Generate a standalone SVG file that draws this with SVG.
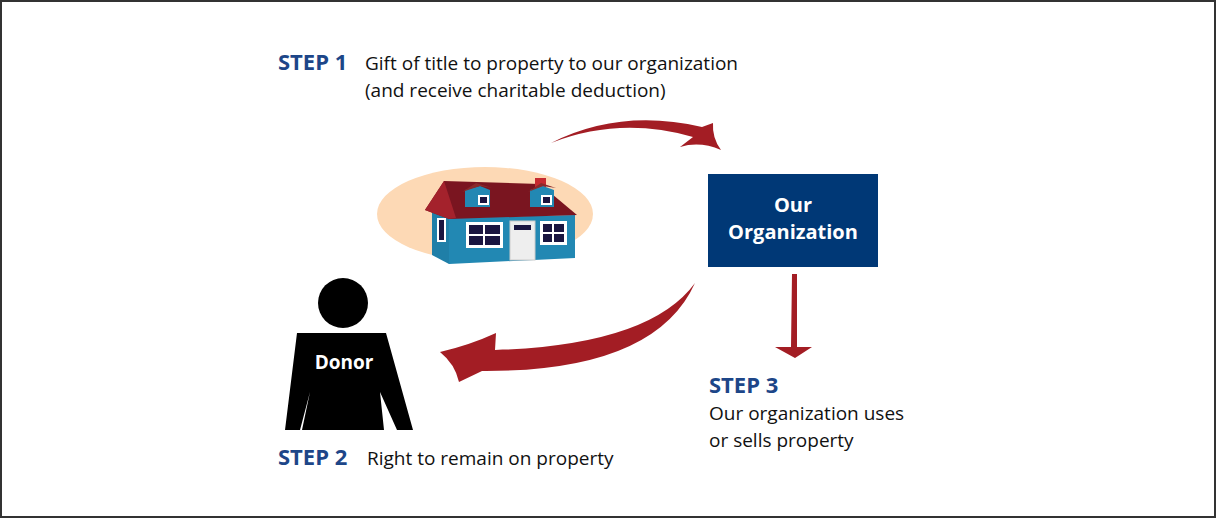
<svg xmlns="http://www.w3.org/2000/svg" width="1216" height="518" viewBox="0 0 1216 518">
<style>
.step{font-family:"Open Sans","Liberation Sans",sans-serif;font-weight:bold;fill:#1d4688;font-size:22px}
.t{font-family:"Open Sans","Liberation Sans",sans-serif;fill:#111;font-size:19px}
.w{font-family:"Open Sans","Liberation Sans",sans-serif;font-weight:bold;fill:#fff;font-size:20px;text-anchor:middle}
.arr{fill:#a31d24}
.win{fill:#fff}
.pane{fill:#1a1540}
</style>
<rect x="1" y="1" width="1214" height="516" fill="#fff" stroke="#333" stroke-width="2"/>
<g id="house">
<ellipse cx="485" cy="214" rx="108" ry="47" fill="#fdd9b5"/>
<polygon points="432,212 444,186 456,218 449,264 432,255" fill="#1f7fa8"/>
<polygon points="449,218 575,215 575,258 449,264" fill="#2288b3"/>
<polygon points="425,210 444,181 540,184 577,215 449,219" fill="#7a1520"/>
<polygon points="425,210 444,181 456,218 449,219" fill="#a4222c"/>
<rect x="535" y="178" width="11" height="9" fill="#c62a30"/>
<polygon points="465,190 480,186 490,190 490,207 465,207" fill="#2288b3"/>
<polygon points="462,192 476,183 492,188 480,186" fill="#8a2a2a"/>
<rect x="478" y="195" width="11" height="10" class="win"/><rect x="480" y="197" width="7" height="6" class="pane"/>
<polygon points="530,190 543,186 554,190 554,207 530,207" fill="#2288b3"/>
<polygon points="528,192 541,183 556,188 543,186" fill="#8a2a2a"/>
<rect x="541" y="195" width="11" height="10" class="win"/><rect x="543" y="197" width="7" height="6" class="pane"/>
<rect x="437" y="218" width="9" height="24" class="win"/><rect x="439" y="220" width="5" height="20" class="pane"/>
<rect x="466" y="222" width="37" height="26" class="win"/><rect x="469" y="225" width="31" height="20" class="pane"/>
<line x1="484" y1="225" x2="484" y2="245" stroke="#fff" stroke-width="2"/><line x1="469" y1="235" x2="500" y2="235" stroke="#fff" stroke-width="2"/>
<rect x="510" y="221" width="25" height="39" fill="#eee" stroke="#ccc"/>
<rect x="514" y="225" width="17" height="5" class="pane"/>
<rect x="540" y="221" width="27" height="24" class="win"/><rect x="543" y="224" width="21" height="18" class="pane"/>
<line x1="553" y1="224" x2="553" y2="242" stroke="#fff" stroke-width="2"/><line x1="543" y1="233" x2="564" y2="233" stroke="#fff" stroke-width="2"/>
</g>
<g id="org">
<rect x="708" y="174" width="170" height="93" fill="#003876"/>
<text class="w" x="793" y="212">Our</text>
<text class="w" x="793" y="239">Organization</text>
</g>
<g id="donor">
<circle cx="343" cy="303" r="25" fill="#000"/>
<polygon points="297,333 386,333 413,430 397,430 380,392 384,430 302,430 310,392 300,430 285,430" fill="#000"/>
<text class="w" x="344" y="369" style="font-size:19px">Donor</text>
</g>
<g id="connectors">
<path class="arr" d="M551,143 Q620,108 702,127 L713,123 Q712,138 721,150 Q700,141 680,147 L693,137 Q620,116 551,143 Z"/>
<path class="arr" d="M695,283 Q650,345 495,350 L496,333 Q470,345 440,352 Q455,364 459,382 L482,371 Q655,372 695,283 Z"/>
<path class="arr" d="M792,274 L797,274 L797,347 L812,347 L795,358 L775,347 L791,347 Z"/>
</g>
<g id="labels">
<text class="step" x="278" y="70">STEP 1</text>
<text class="t" x="365" y="70">Gift of title to property to our organization</text>
<text class="t" x="365" y="97">(and receive charitable deduction)</text>
<text class="step" x="709" y="393">STEP 3</text>
<text class="t" x="709" y="420">Our organization uses</text>
<text class="t" x="709" y="447">or sells property</text>
<text class="step" x="278" y="465">STEP 2</text>
<text class="t" x="367" y="465">Right to remain on property</text>
</g>
</svg>
